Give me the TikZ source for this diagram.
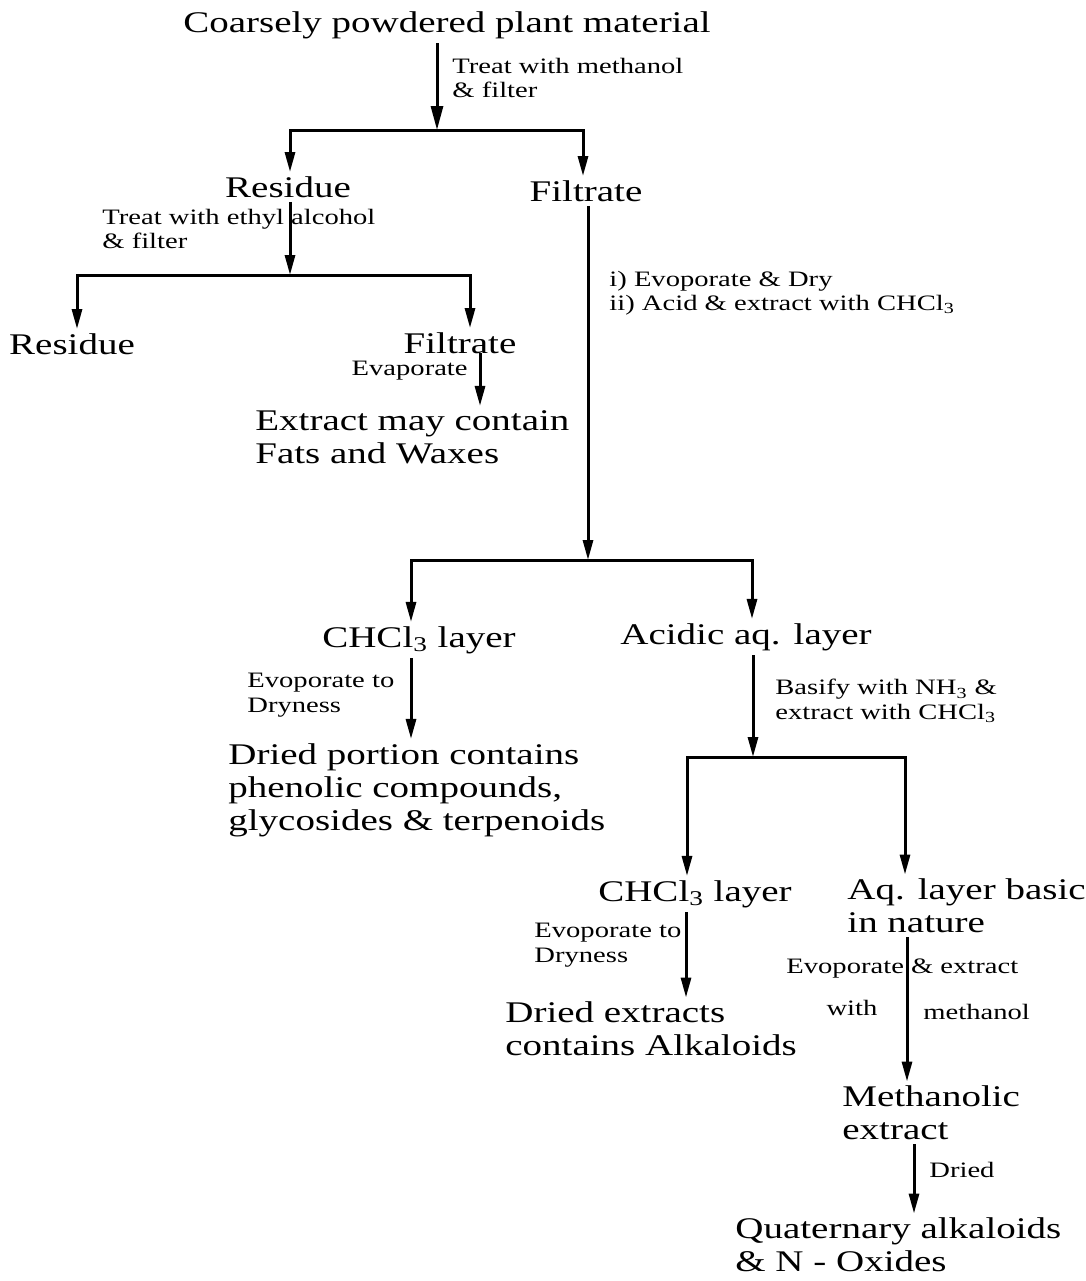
\documentclass[tikz,border=0pt]{standalone}
\usepackage{fontspec}
\setmainfont[FakeStretch=1.3]{Liberation Serif}
\usetikzlibrary{calc,arrows.meta}

\begin{document}
\begin{tikzpicture}[x=0.5pt,y=-0.5pt,>={Triangle[length=10pt,width=5pt]}]

  \tikzstyle{state} = [inner sep=2pt, font={\fontsize{15}{16.5}\selectfont}]
  \tikzstyle{block} = [state, align=left, anchor=west]
  \tikzstyle{stepLabel} = [inner sep=1pt, align=left, anchor=west, font={\fontsize{11}{12.2}\selectfont}]
  \tikzstyle{stateEdgePortion} = [black, line width=1.5pt];
  \tikzstyle{stateEdge} = [stateEdgePortion,->];
  \tikzstyle{splitEdge} = [stateEdgePortion,<->];

  \useasboundingbox (0,0) rectangle (1086,1281);

  \node[state, name=plant] at (447,25) {Coarsely powdered plant material};
  \node[state, name=residueA] at (288,187) {Residue};
  \node[state, name=filtrateA] at (586,191) {Filtrate};
  \node[state, name=residueB] at (72,344) {Residue};
  \node[state, name=filtrateB] at (460,343) {Filtrate};
  \node[block, name=fats] at (251,437) {Extract may contain\\Fats and Waxes};
  \node[state, name=chloroA] at (419,640) {CHCl\textsubscript{3} layer};
  \node[state, name=acidic] at (746,637) {Acidic aq. layer};
  \node[block, name=phenolic] at (224,790) {Dried portion contains\\phenolic compounds,\\glycosides \& terpenoids};
  \node[state, name=chloroB] at (695,894) {CHCl\textsubscript{3} layer};
  \node[block, name=basic] at (843,906) {Aq. layer basic\\in nature};
  \node[block, name=alkaloids] at (501,1029) {Dried extracts\\contains Alkaloids};
  \node[block, name=methanolic] at (838,1113) {Methanolic\\extract};
  \node[block, name=quaternary] at (731,1245) {Quaternary alkaloids\\\& N - Oxides};

  % step labels
  \node[stepLabel, name=methanolStep] at (450,78) {Treat with methanol\\\& filter};
  \node[stepLabel, name=ethylStep] at (100,229) {Treat with ethyl alcohol\\\& filter};
  \node[stepLabel, name=evapStep, anchor=east] at (470,371) {Evaporate};
  \node[stepLabel, name=acidStep] at (607,293) {i) Evoporate \& Dry\\ii) Acid \& extract with CHCl\textsubscript{3}};
  \node[stepLabel, name=dryStepA] at (245,695) {Evoporate to\\Dryness};
  \node[stepLabel, name=basifyStep] at (773,701) {Basify with NH\textsubscript{3} \&\\extract with CHCl\textsubscript{3}};
  \node[stepLabel, name=dryStepB] at (532,945) {Evoporate to\\Dryness};
  \node[stepLabel, name=extractStep] at (784,969) {Evoporate \& extract};
  \node[stepLabel, name=withStep, anchor=center] at (852,1008) {with};
  \node[stepLabel, name=methStep] at (921,1012) {methanol};
  \node[stepLabel, name=driedStep] at (927,1170) {Dried};

  % Plant material is treated with methanol and split
  \coordinate (splitPlant) at (437,130);
  \draw[stateEdge, >={Triangle[length=12pt,width=6pt]}] (splitPlant |- plant.south) -- (splitPlant);
  \draw[splitEdge] ($(residueA.north -| splitPlant) + (-147,0)$) |- (splitPlant)
    -| ($(filtrateA.north -| splitPlant) + (146,0)$);

  % Residue is treated with ethyl alcohol and split
  \coordinate (splitResidue) at (290,275);
  \draw[stateEdge] (splitResidue |- residueA.south) -- (splitResidue);
  \draw[splitEdge] (residueB.north -| 77,0) |- (splitResidue) -| (filtrateB.north -| 470,0);

  % Filtrate is evaporated
  \draw[stateEdge] (filtrateB.base -| 480,0) -- (fats.north -| 480,0);

  % Filtrate is dried, acidified and extracted
  \coordinate (splitFiltrate) at (588,560);
  \draw[stateEdge] (splitFiltrate |- filtrateA.south) -- (splitFiltrate);
  \draw[splitEdge] (chloroA.north -| 411,0) |- (splitFiltrate) -| (acidic.north -| 752,0);

  % CHCl3 layer is evaporated to dryness
  \draw[stateEdge] (chloroA.south -| 411,0) -- (phenolic.north -| 411,0);

  % Acidic layer is basified and extracted
  \coordinate (splitAcidic) at (753,757);
  \draw[stateEdge] (splitAcidic |- acidic.south) -- (splitAcidic);
  \draw[splitEdge] (chloroB.north -| 687,0) |- (splitAcidic) -| (basic.north -| 905,0);

  % Second CHCl3 layer gives the alkaloids
  \draw[stateEdge] (chloroB.south -| 686,0) -- (alkaloids.north -| 686,0);

  % Basic layer gives the methanolic extract
  \draw[stateEdge] (basic.south -| 907,0) -- (methanolic.north -| 907,0);

  % Methanolic extract is dried
  \draw[stateEdge] (methanolic.south -| 914,0) -- (quaternary.north -| 914,0);

\end{tikzpicture}
\end{document}
